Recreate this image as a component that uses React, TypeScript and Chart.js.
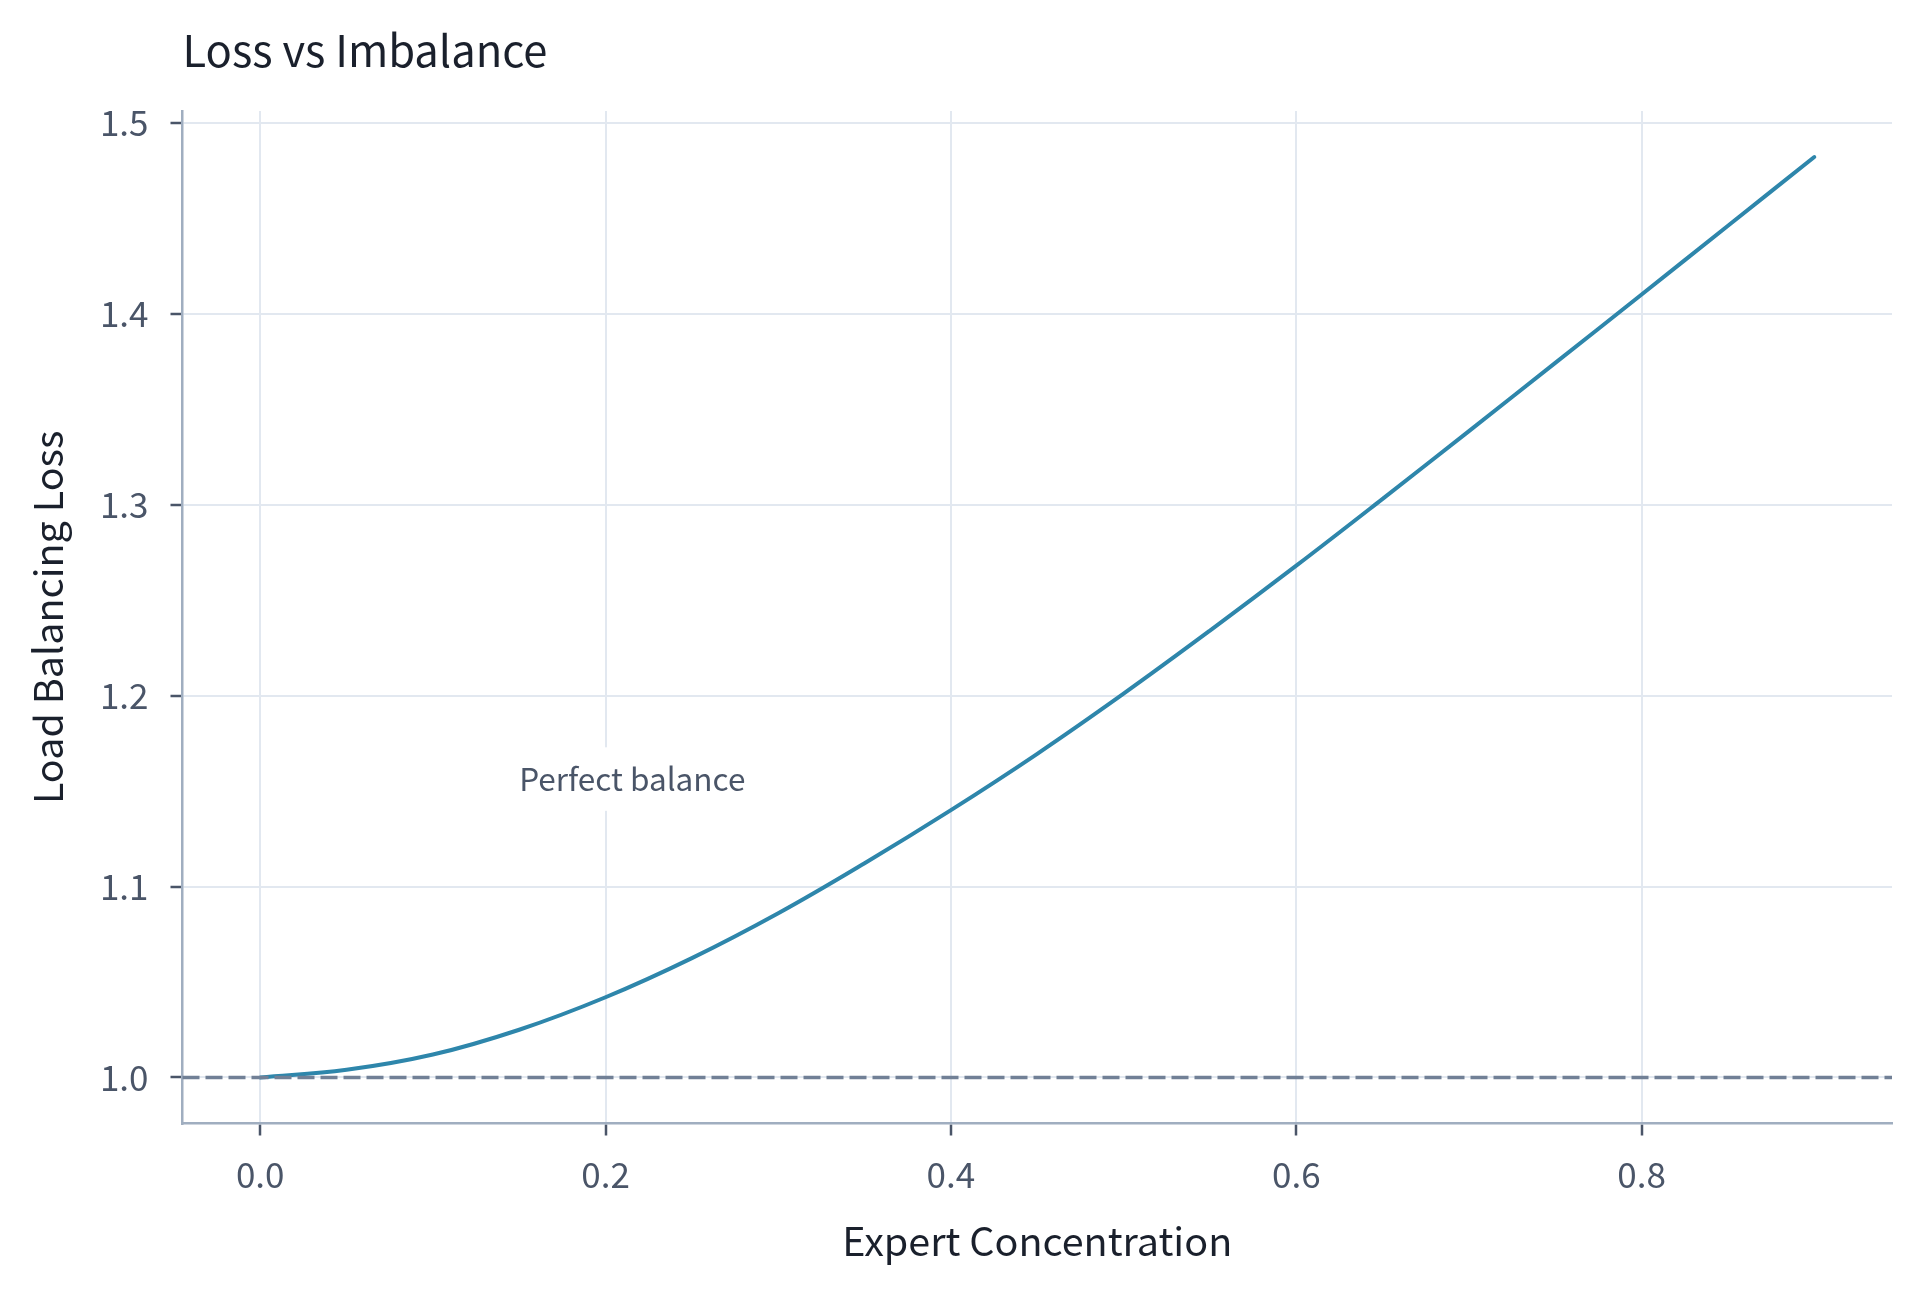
import React, { useEffect, useRef } from "react";
import { Chart, registerables } from "chart.js";

Chart.register(...registerables);

// Expert concentration (x) and the resulting load-balancing loss (y)
const concentration = [
  0.0, 0.05, 0.1, 0.15, 0.2, 0.25, 0.3, 0.35, 0.4, 0.45,
  0.5, 0.55, 0.6, 0.65, 0.7, 0.75, 0.8, 0.85, 0.9,
];
const lossValues = [
  1.0, 1.004, 1.012, 1.025, 1.042, 1.0625, 1.086, 1.1122, 1.14, 1.1695,
  1.201, 1.234, 1.268, 1.303, 1.3385, 1.3742, 1.41, 1.446, 1.482,
];

const xTickValues = [0.0, 0.2, 0.4, 0.6, 0.8];
const yTickValues = [1.0, 1.1, 1.2, 1.3, 1.4, 1.5];

const balancedLoss = 1.0;
const noteText = "Perfect balance";
const noteAnchor = [0.15, 1.15];

const chartTitle = "Loss vs Imbalance";
const xTitle = "Expert Concentration";
const yTitle = "Load Balancing Loss";

const FONT = '"Noto Sans CJK KR", "Noto Sans", sans-serif';
const TEXT_DARK = "#1a202c";
const TEXT_MUTED = "#4a5568";
const GRID = "#e2e8f0";
const SPINE = "#a0aec0";
const LINE = "#2E86AB";
const REF_LINE = "#718096";

const overlayPlugin = {
  id: "overlay",
  afterDatasetsDraw(chart: any) {
    const { ctx, chartArea, scales } = chart;
    const xs = scales.x;
    const ys = scales.y;

    // dashed reference line at perfect balance
    const yRef = ys.getPixelForValue(balancedLoss);
    ctx.save();
    ctx.strokeStyle = REF_LINE;
    ctx.lineWidth = 3.5;
    ctx.setLineDash([17, 6]);
    ctx.beginPath();
    ctx.moveTo(chartArea.left, yRef);
    ctx.lineTo(chartArea.right, yRef);
    ctx.stroke();
    ctx.restore();

    // text note with a white backing box
    const fs = 31.5;
    const nx = xs.getPixelForValue(noteAnchor[0]);
    const ny = ys.getPixelForValue(noteAnchor[1]);
    ctx.save();
    ctx.font = `${fs}px ${FONT}`;
    const w = ctx.measureText(noteText).width;
    const pad = 16;
    ctx.fillStyle = "#ffffff";
    ctx.fillRect(nx - pad, ny - 0.88 * fs - pad, w + 2 * pad, fs + 2 * pad);
    ctx.fillStyle = TEXT_MUTED;
    ctx.textAlign = "left";
    ctx.textBaseline = "alphabetic";
    ctx.fillText(noteText, nx, ny);
    ctx.restore();
  },
  afterDraw(chart: any) {
    const { ctx, chartArea } = chart;
    ctx.save();
    ctx.font = `43.5px ${FONT}`;
    ctx.fillStyle = TEXT_DARK;
    ctx.textAlign = "left";
    ctx.textBaseline = "alphabetic";
    ctx.fillText(chartTitle, chartArea.left, 67);
    ctx.restore();
  },
};

export default function App() {
  const canvasRef = useRef<HTMLCanvasElement | null>(null);

  useEffect(() => {
    if (!canvasRef.current) return;
    const points = concentration.map((c, i) => ({ x: c, y: lossValues[i] }));

    const chart = new Chart(canvasRef.current, {
      type: "line",
      data: {
        datasets: [
          {
            data: points,
            borderColor: LINE,
            borderWidth: 4,
            pointRadius: 0,
            fill: false,
            tension: 0.4,
            borderCapStyle: "round",
          },
        ],
      },
      options: {
        animation: false,
        responsive: false,
        devicePixelRatio: 1,
        layout: { padding: { top: 111, right: 28, left: 0, bottom: 0 } },
        plugins: {
          legend: { display: false },
          tooltip: { enabled: false },
          title: { display: false },
        },
        scales: {
          x: {
            type: "linear",
            min: -0.045,
            max: 0.945,
            afterBuildTicks: (s: any) => {
              s.ticks = xTickValues.map((v) => ({ value: v }));
            },
            afterFit: (s: any) => {
              s.height = 168.5;
            },
            grid: {
              color: GRID,
              lineWidth: 2,
              tickColor: TEXT_MUTED,
              tickWidth: 2.5,
              tickLength: 12,
            },
            border: { display: true, color: SPINE, width: 2.5 },
            ticks: {
              color: TEXT_MUTED,
              font: { family: FONT, size: 35 },
              padding: 18,
              maxRotation: 0,
              callback: (v: any) => Number(v).toFixed(1),
            },
            title: {
              display: true,
              text: xTitle,
              color: TEXT_DARK,
              font: { family: FONT, size: 39.5 },
              padding: { top: 0, bottom: 27 },
            },
          },
          y: {
            type: "linear",
            min: 0.9759,
            max: 1.5061,
            afterBuildTicks: (s: any) => {
              s.ticks = yTickValues.map((v) => ({ value: v }));
            },
            afterFit: (s: any) => {
              s.width = 182.5;
            },
            grid: {
              color: GRID,
              lineWidth: 2,
              tickColor: TEXT_MUTED,
              tickWidth: 2.5,
              tickLength: 12,
            },
            border: { display: true, color: SPINE, width: 2.5 },
            ticks: {
              color: TEXT_MUTED,
              font: { family: FONT, size: 35 },
              padding: 22,
              callback: (v: any) => Number(v).toFixed(1),
            },
            title: {
              display: true,
              text: yTitle,
              color: TEXT_DARK,
              font: { family: FONT, size: 39.5 },
              padding: { top: 24, bottom: 0 },
            },
          },
        },
      },
      plugins: [overlayPlugin],
    });

    return () => chart.destroy();
  }, []);

  return (
    <div
      style={{
        position: "fixed",
        left: 0,
        top: 0,
        width: 1920,
        height: 1292,
        background: "#ffffff",
      }}
    >
      <canvas
        ref={canvasRef}
        width={1920}
        height={1292}
        style={{ display: "block", width: 1920, height: 1292 }}
      />
    </div>
  );
}
